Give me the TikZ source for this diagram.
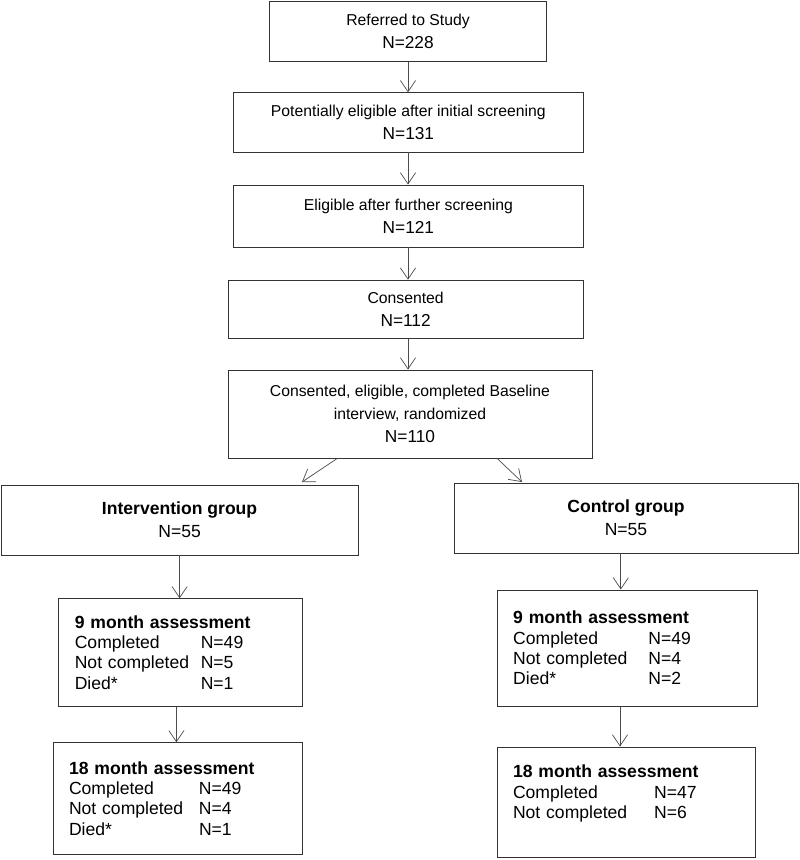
\documentclass[tikz,border=0pt]{standalone}
\usepackage{fontspec}
\setmainfont{Liberation Sans}
\usetikzlibrary{arrows.meta,positioning}

\newcommand{\nline}[1]{{\fontsize{12.3}{16}\selectfont #1}}
\newcommand{\arow}[3]{\makebox[#1][l]{#2}#3}

\begin{document}
\begin{tikzpicture}[
    box/.style={rectangle, draw=black!80, line width=0.7pt, align=center, inner sep=0pt, font=\fontsize{11.2}{16.2}\selectfont},
    groupbox/.style={box, font=\fontsize{12.5}{16.4}\selectfont},
    assess/.style={rectangle, draw=black!80, line width=0.7pt, align=left, inner xsep=0.4cm, inner ysep=0pt, font=\fontsize{12.5}{14.45}\selectfont},
    arrow/.style={-{Straight Barb[length=0.28cm,width=0.38cm]}, draw=black!70, line width=0.5pt},
]
    \useasboundingbox (0,0) rectangle (20,-21.5);

    % Screening path
    \node[box, minimum width=6.93cm, minimum height=1.50cm] (refer) at (10.20,-0.78) {Referred to Study\\\nline{N=228}};
    \node[box, minimum width=8.73cm, minimum height=1.48cm] (screen) at (10.21,-3.06) {Potentially eligible after initial screening\\\nline{N=131}};
    \node[box, minimum width=8.73cm, minimum height=1.55cm] (elig) at (10.21,-5.40) {Eligible after further screening\\\nline{N=121}};
    \node[box, minimum width=8.88cm, minimum height=1.45cm] (consent) at (10.14,-7.73) {Consented\\\nline{N=112}};
    \node[box, minimum width=9.10cm, minimum height=2.20cm] (random) at (10.25,-10.35) {Consented, eligible, completed Baseline\\interview, randomized\\\nline{N=110}};

    % Groups
    \node[groupbox, minimum width=8.93cm, minimum height=1.75cm] (interv) at (4.49,-13.00) {\textbf{Intervention group}\\N=55};
    \node[groupbox, minimum width=8.60cm, minimum height=1.75cm] (control) at (15.65,-12.95) {\textbf{Control group}\\N=55};

    % Follow-up, intervention
    \node[assess, text width=5.28cm, minimum height=2.68cm] (i9) at (4.51,-16.31) {\textbf{9 month assessment}\\\arow{3.15cm}{Completed}{N=49}\\\arow{3.15cm}{Not completed}{N=5}\\\arow{3.15cm}{Died*}{N=1}};
    \node[assess, text width=5.43cm, minimum height=2.78cm] (i18) at (4.44,-19.96) {\textbf{18 month assessment}\\\arow{3.25cm}{Completed}{N=49}\\\arow{3.25cm}{Not completed}{N=4}\\\arow{3.25cm}{Died*}{N=1}};

    % Follow-up, control
    \node[assess, text width=5.70cm, minimum height=2.90cm] (c9) at (15.68,-16.20) {\textbf{9 month assessment}\\\arow{3.38cm}{Completed}{N=49}\\\arow{3.38cm}{Not completed}{N=4}\\\arow{3.38cm}{Died*}{N=2}};
    \node[assess, text width=5.65cm, minimum height=2.75cm] (c18) at (15.65,-20.05) {\textbf{18 month assessment}\\\arow{3.53cm}{Completed}{N=47}\\\arow{3.53cm}{Not completed}{N=6}\\\mbox{}};

    % Split points
    \coordinate (splitL) at (7.55,-12.05);
    \coordinate (splitR) at (13.05,-12.05);

    % Arrows
    \draw[arrow] (refer.south) -- (refer.south |- screen.north);
    \draw[arrow] (refer.south |- screen.south) -- (refer.south |- elig.north);
    \draw[arrow] (refer.south |- elig.south) -- (refer.south |- consent.north);
    \draw[arrow] (refer.south |- consent.south) -- (refer.south |- random.north);
    \draw[arrow] ([xshift=-1.82cm]random.south) -- (splitL);
    \draw[arrow] ([xshift=2.18cm]random.south) -- (splitR);
    \draw[arrow] (interv.south) -- (interv.south |- i9.north);
    \draw[arrow] ([xshift=-0.1cm]i9.south) -- ([xshift=-0.1cm]i9.south |- i18.north);
    \draw[arrow] ([xshift=-0.13cm]control.south) -- ([xshift=-0.13cm]control.south |- c9.north);
    \draw[arrow] ([xshift=-0.18cm]c9.south) -- ([xshift=-0.18cm]c9.south |- c18.north);
\end{tikzpicture}
\end{document}
